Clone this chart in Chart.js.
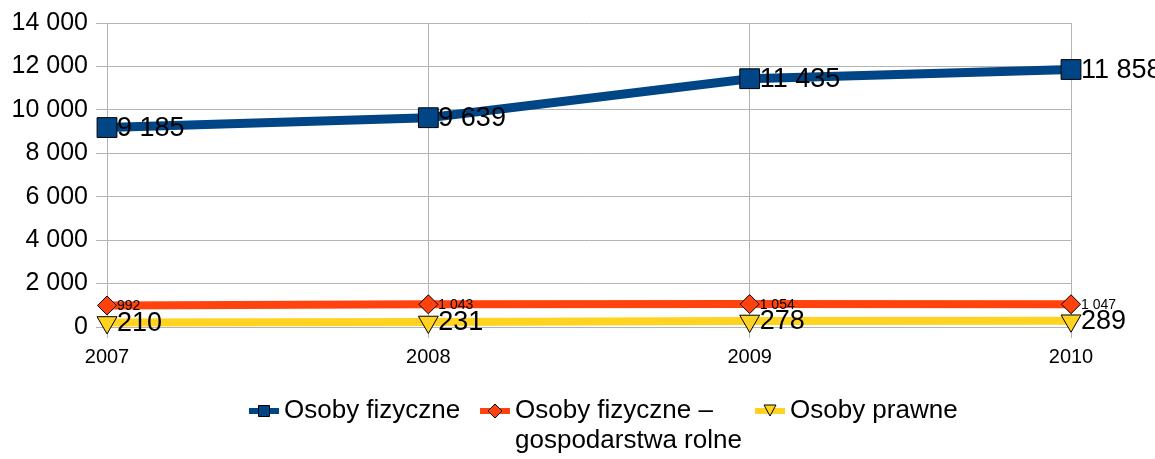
<!DOCTYPE html>
<html>
<head>
<meta charset="utf-8">
<script src="https://cdn.jsdelivr.net/npm/chart.js@4/dist/chart.umd.min.js"></script>
<style>
  html, body { margin: 0; padding: 0; background: #fff; }
</style>
</head>
<body>
<canvas id="chart" width="1155" height="459"></canvas>
<script>
const years = ['2007', '2008', '2009', '2010'];
const osobyFizyczne = [9185, 9639, 11435, 11858];
const gospodarstwaRolne = [992, 1043, 1054, 1047];
const osobyPrawne = [210, 231, 278, 289];
const yMin = 0, yMax = 14000, yStep = 2000;

const FONT = "'Liberation Sans', Arial, sans-serif";

// 9185 -> "9 185"
const fmt = v => String(v).replace(/\B(?=(\d{3})+(?!\d))/g, ' ');

// labels next to each point
const pointLabels = {
    id: 'pointLabels',
    afterDatasetsDraw(chart) {
        const ctx = chart.ctx;
        ctx.save();
        ctx.fillStyle = '#000';
        ctx.textBaseline = 'middle';
        ctx.textAlign = 'left';
        chart.data.datasets.forEach((ds, i) => {
            ctx.font = ds.labelSize + 'px ' + FONT;
            chart.getDatasetMeta(i).data.forEach((pt, j) => {
                ctx.fillText(fmt(ds.data[j]), pt.x + 10, pt.y + 1);
            });
        });
        ctx.restore();
    }
};

// legend under the chart, second entry wraps over two lines
const bottomLegend = {
    id: 'bottomLegend',
    afterDraw(chart) {
        const ctx = chart.ctx;
        const y = 411;
        const items = [
            {x: 249, lines: ['Osoby fizyczne']},
            {x: 480, lines: ['Osoby fizyczne –', 'gospodarstwa rolne']},
            {x: 755, lines: ['Osoby prawne']}
        ];
        ctx.save();
        ctx.font = '26px ' + FONT;
        ctx.textBaseline = 'middle';
        items.forEach((it, i) => {
            const ds = chart.data.datasets[i];
            ctx.fillStyle = ds.borderColor;
            ctx.fillRect(it.x, y - 3, 30, 6);
            const cx = it.x + 15;
            ctx.beginPath();
            if (ds.pointStyle === 'rect') {
                ctx.rect(cx - 5.5, y - 5.5, 11, 11);
            } else if (ds.pointStyle === 'rectRot') {
                ctx.moveTo(cx, y - 7); ctx.lineTo(cx + 7, y); ctx.lineTo(cx, y + 7); ctx.lineTo(cx - 7, y);
                ctx.closePath();
            } else {
                ctx.moveTo(cx - 6, y - 6); ctx.lineTo(cx + 6, y - 6); ctx.lineTo(cx, y + 5);
                ctx.closePath();
            }
            ctx.fillStyle = ds.pointBackgroundColor;
            ctx.fill();
            ctx.lineWidth = 1;
            ctx.strokeStyle = '#000';
            ctx.stroke();
            ctx.fillStyle = '#000';
            it.lines.forEach((t, k) => ctx.fillText(t, it.x + 35, y + k * 30));
        });
        ctx.restore();
    }
};

new Chart(document.getElementById('chart').getContext('2d'), {
    type: 'line',
    data: {
        labels: years,
        datasets: [{
            label: 'Osoby fizyczne',
            data: osobyFizyczne,
            borderColor: '#004586',
            backgroundColor: '#004586',
            pointBackgroundColor: '#004586',
            borderWidth: 9,
            pointStyle: 'rect',
            pointRadius: 14,
            labelSize: 27,
            order: 3
        }, {
            label: 'Osoby fizyczne – gospodarstwa rolne',
            data: gospodarstwaRolne,
            borderColor: '#ff420e',
            backgroundColor: '#ff420e',
            pointBackgroundColor: '#ff420e',
            borderWidth: 8,
            pointStyle: 'rectRot',
            pointRadius: 9.5,
            labelSize: 14,
            order: 2
        }, {
            label: 'Osoby prawne',
            data: osobyPrawne,
            borderColor: '#ffd320',
            backgroundColor: '#ffd320',
            pointBackgroundColor: '#ffd320',
            borderWidth: 8,
            pointStyle: 'triangle',
            pointRotation: 180,
            pointRadius: 11.5,
            labelSize: 27,
            order: 1
        }].map(ds => Object.assign({
            pointBorderColor: '#000',
            pointBorderWidth: 1,
            pointHoverRadius: 0,
            tension: 0,
            clip: false
        }, ds))
    },
    options: {
        responsive: false,
        animation: false,
        events: [],
        layout: { padding: { left: 0, top: 19, right: 84, bottom: 0 } },
        plugins: {
            legend: { display: false },
            tooltip: { enabled: false }
        },
        scales: {
            x: {
                offset: false,
                grid: { color: '#b3b3b3', tickLength: 11 },
                border: { color: '#b3b3b3' },
                ticks: { color: '#000', font: { family: FONT, size: 20 }, padding: 7, maxRotation: 0 },
                afterFit(scale) { scale.height = 132; }
            },
            y: {
                min: yMin,
                max: yMax,
                grid: { color: '#b3b3b3', tickLength: 11 },
                border: { color: '#b3b3b3' },
                ticks: {
                    stepSize: yStep,
                    color: '#000',
                    font: { family: FONT, size: 25 },
                    padding: 8,
                    callback: v => fmt(v)
                },
                afterFit(scale) { scale.width = 107; }
            }
        }
    },
    plugins: [pointLabels, bottomLegend]
});
</script>
</body>
</html>
